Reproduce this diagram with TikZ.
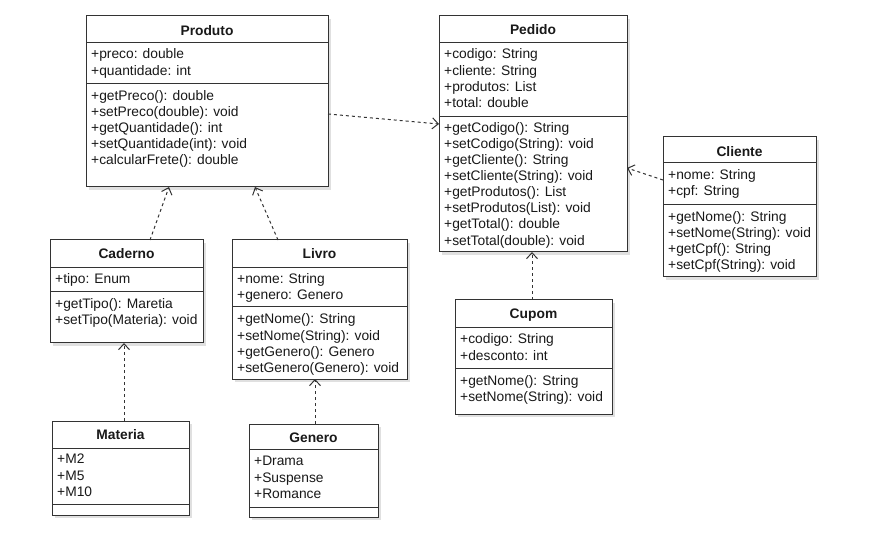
\documentclass[tikz,border=0pt]{standalone}
\usepackage{fontspec}
\setmainfont{Liberation Sans}
\usetikzlibrary{arrows.meta,shadows}
\newcommand\umlbox[9]{%
  \node[classbox, minimum width={(#4-#2)*1pt}, minimum height={(#5-#3)*1pt}] (#1) at ({(#2+#4)/2},{(#3+#5)/2}) {};
  \draw[divider] (#2,#6) -- (#4,#6);
  \draw[divider] (#2,#7) -- (#4,#7);
  \node[titletext] (#1-title) at ({(#2+#4)/2},#9) {#8};
}
\newcommand\classline[4]{\node[txt] (#1) at (#2,#3) {#4};}
\begin{document}
\begin{tikzpicture}[x=1pt,y=-1pt,
  classbox/.style={draw=black!80, line width=1pt, fill=white, inner sep=0pt, outer sep=0pt,
    drop shadow={shadow xshift=3pt, shadow yshift=-3pt, opacity=0.12, fill=black}},
  divider/.style={draw=black!80, line width=1pt},
  titletext/.style={font=\fontsize{13.8}{16}\selectfont\bfseries, text=black!90, inner sep=0pt, anchor=mid, yshift=-2.5pt},
  txt/.style={font=\fontsize{13.8}{16}\selectfont, text=black!90, inner sep=0pt, anchor=mid west, yshift=-3pt},
  dep/.style={draw=black!80, line width=1pt, dash pattern=on 3pt off 3pt,
    -{Straight Barb[length=6pt,width=11pt]}}
]
\useasboundingbox (0,0) rectangle (873,537);

% Produto
\umlbox{produto}{86}{16}{328}{187}{43}{84}{Produto}{30}
\classline{pr-a1}{91}{53}{+preco: double}
\classline{pr-a2}{91}{70}{+quantidade: int}
\classline{pr-m1}{91}{95}{+getPreco(): double}
\classline{pr-m2}{91}{111}{+setPreco(double): void}
\classline{pr-m3}{91}{127}{+getQuantidade(): int}
\classline{pr-m4}{91}{143}{+setQuantidade(int): void}
\classline{pr-m5}{91}{159}{+calcularFrete(): double}

% Pedido
\umlbox{pedido}{439}{16}{627}{252}{43}{117}{Pedido}{29}
\classline{pe-a1}{444}{53}{+codigo: String}
\classline{pe-a2}{444}{70}{+cliente: String}
\classline{pe-a3}{444}{86}{+produtos: List}
\classline{pe-a4}{444}{102}{+total: double}
\classline{pe-m1}{444}{127}{+getCodigo(): String}
\classline{pe-m2}{444}{143}{+setCodigo(String): void}
\classline{pe-m3}{444}{159}{+getCliente(): String}
\classline{pe-m4}{444}{175}{+setCliente(String): void}
\classline{pe-m5}{444}{191}{+getProdutos(): List}
\classline{pe-m6}{444}{207}{+setProdutos(List): void}
\classline{pe-m7}{444}{223}{+getTotal(): double}
\classline{pe-m8}{444}{240}{+setTotal(double): void}

% Cliente
\umlbox{cliente}{663}{137}{816}{277}{163}{205}{Cliente}{151}
\classline{cl-a1}{668}{174}{+nome: String}
\classline{cl-a2}{668}{190}{+cpf: String}
\classline{cl-m1}{668}{216}{+getNome(): String}
\classline{cl-m2}{668}{232}{+setNome(String): void}
\classline{cl-m3}{668}{248}{+getCpf(): String}
\classline{cl-m4}{668}{264}{+setCpf(String): void}

% Caderno
\umlbox{caderno}{50}{240}{203}{343}{268}{292}{Caderno}{253}
\classline{ca-a1}{55}{278}{+tipo: Enum}
\classline{ca-m1}{55}{303}{+getTipo(): Maretia}
\classline{ca-m2}{55}{319}{+setTipo(Materia): void}

% Livro
\umlbox{livro}{232}{240}{407}{379}{268}{307}{Livro}{253}
\classline{li-a1}{237}{278}{+nome: String}
\classline{li-a2}{237}{294}{+genero: Genero}
\classline{li-m1}{237}{318}{+getNome(): String}
\classline{li-m2}{237}{335}{+setNome(String): void}
\classline{li-m3}{237}{351}{+getGenero(): Genero}
\classline{li-m4}{237}{367}{+setGenero(Genero): void}

% Cupom
\umlbox{cupom}{455}{300}{612}{414}{328}{368}{Cupom}{313}
\classline{cu-a1}{460}{338}{+codigo: String}
\classline{cu-a2}{460}{355}{+desconto: int}
\classline{cu-m1}{460}{380}{+getNome(): String}
\classline{cu-m2}{460}{396}{+setNome(String): void}

% Materia
\umlbox{materia}{52}{421}{189}{515}{448}{504}{Materia}{434}
\classline{ma-a1}{57}{458}{+M2}
\classline{ma-a2}{57}{475}{+M5}
\classline{ma-a3}{57}{491}{+M10}

% Genero
\umlbox{genero}{249}{424}{378}{517}{449}{507}{Genero}{437}
\classline{ge-a1}{254}{460}{+Drama}
\classline{ge-a2}{254}{477}{+Suspense}
\classline{ge-a3}{254}{493}{+Romance}

% Connectors
\draw[dep] ([yshift=-12.5pt]produto.east) -- ([yshift=10pt]pedido.west);
\draw[dep] ([xshift=23.5pt]caderno.north) -- ([xshift=-38pt]produto.south);
\draw[dep] ([xshift=-41.5pt]livro.north) -- ([xshift=48pt]produto.south);
\draw[dep] ([xshift=-1.5pt]cupom.north) -- ([xshift=-1pt]pedido.south);
\draw[dep] ([yshift=27pt]cliente.west) -- ([yshift=-34pt]pedido.east);
\draw[dep] ([xshift=3.5pt]materia.north) -- ([xshift=-2.5pt]caderno.south);
\draw[dep] ([xshift=1.5pt]genero.north) -- ([xshift=-4.5pt]livro.south);
\end{tikzpicture}
\end{document}
